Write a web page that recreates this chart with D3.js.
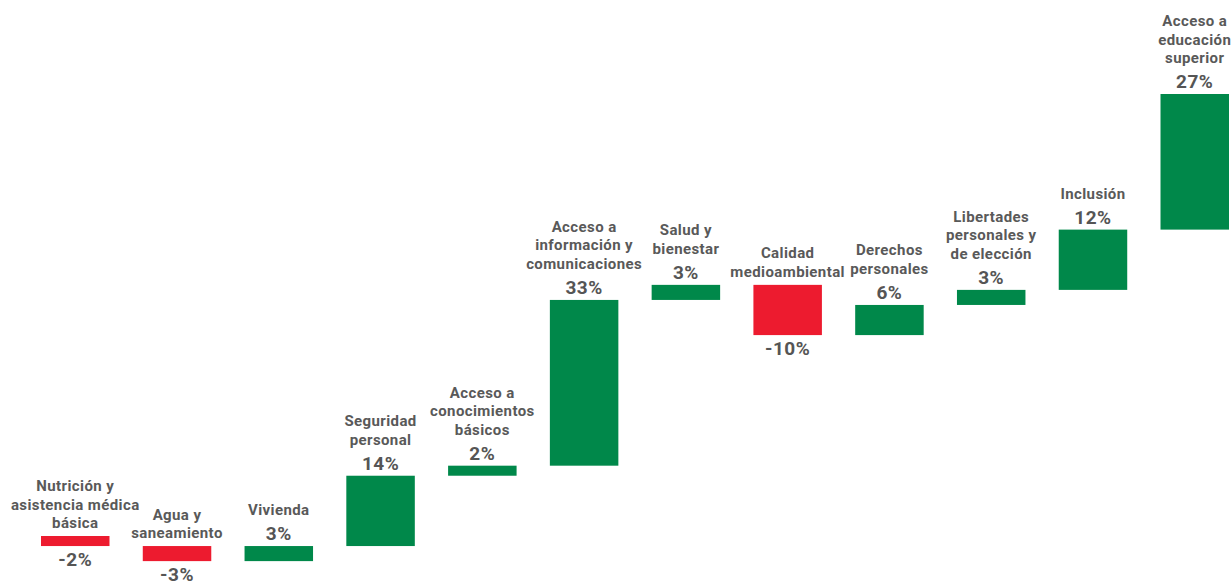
<!DOCTYPE html>
<html>
<head>
<meta charset="utf-8">
<script src="https://cdn.jsdelivr.net/npm/d3@7"></script>
<style>
  html, body { margin: 0; padding: 0; background: #ffffff; }
  svg { display: block; }
  .cat { font-family: Roboto, "Noto Sans", sans-serif; font-weight: 700; font-size: 15px; letter-spacing: 0.4px; fill: #595959; }
  .val { font-family: Roboto, "Noto Sans", sans-serif; font-weight: 700; font-size: 19px; letter-spacing: 0.5px; fill: #555555; }
</style>
</head>
<body>
<script>
// Data
const categories = [
  ["Nutrición y", "asistencia médica", "básica"],
  ["Agua y", "saneamiento"],
  ["Vivienda"],
  ["Seguridad", "personal"],
  ["Acceso a", "conocimientos", "básicos"],
  ["Acceso a", "información y", "comunicaciones"],
  ["Salud y", "bienestar"],
  ["Calidad", "medioambiental"],
  ["Derechos", "personales"],
  ["Libertades", "personales y", "de elección"],
  ["Inclusión"],
  ["Acceso a", "educación", "superior"]
];
const values = [-2, -3, 3, 14, 2, 33, 3, -10, 6, 3, 12, 27];
const valueLabels = ["-2%", "-3%", "3%", "14%", "2%", "33%", "3%", "-10%", "6%", "3%", "12%", "27%"];

const W = 1232, H = 585;
const colorPos = "#00884a", colorNeg = "#ed1b2f";

// Waterfall cumulative
let run = 0;
const rows = values.map((v, i) => {
  const start = run;
  run += v;
  return { i, v, start, end: run, lines: categories[i], label: valueLabels[i] };
});

const svg = d3.select("body").append("svg").attr("width", W).attr("height", H);

const x = d3.scaleBand()
  .domain(rows.map(d => d.i))
  .range([41, 1229])
  .paddingInner(0.327)
  .paddingOuter(0);

const y = d3.scaleLinear()
  .domain([0, 88])
  .range([536, 94]);

const g = svg.append("g");

g.selectAll("rect.bar")
  .data(rows)
  .join("rect")
  .attr("class", "bar")
  .attr("x", d => x(d.i))
  .attr("width", x.bandwidth())
  .attr("y", d => y(Math.max(d.start, d.end)))
  .attr("height", d => Math.abs(y(d.start) - y(d.end)))
  .attr("fill", d => d.v >= 0 ? colorPos : colorNeg);

const lineH = 18.5;

// Value labels
g.selectAll("text.val")
  .data(rows)
  .join("text")
  .attr("class", "val")
  .attr("text-anchor", "middle")
  .attr("x", d => x(d.i) + x.bandwidth() / 2)
  .attr("y", d => d.v >= 0 ? y(d.end) - 6 : y(d.end) + 20)
  .text(d => d.label);

// Category labels
const cats = g.selectAll("text.cat")
  .data(rows)
  .join("text")
  .attr("class", "cat")
  .attr("text-anchor", "middle")
  .attr("x", d => x(d.i) + x.bandwidth() / 2)
  .attr("y", d => {
    const lastBase = d.v >= 0 ? y(d.end) - 6 - 25 : y(d.start) - 8;
    return lastBase - (d.lines.length - 1) * lineH;
  });

cats.selectAll("tspan")
  .data(d => d.lines.map((t, k) => ({ t, k, cx: x(d.i) + x.bandwidth() / 2 })))
  .join("tspan")
  .attr("x", d => d.cx)
  .attr("dy", d => d.k === 0 ? 0 : lineH)
  .text(d => d.t);
</script>
</body>
</html>
